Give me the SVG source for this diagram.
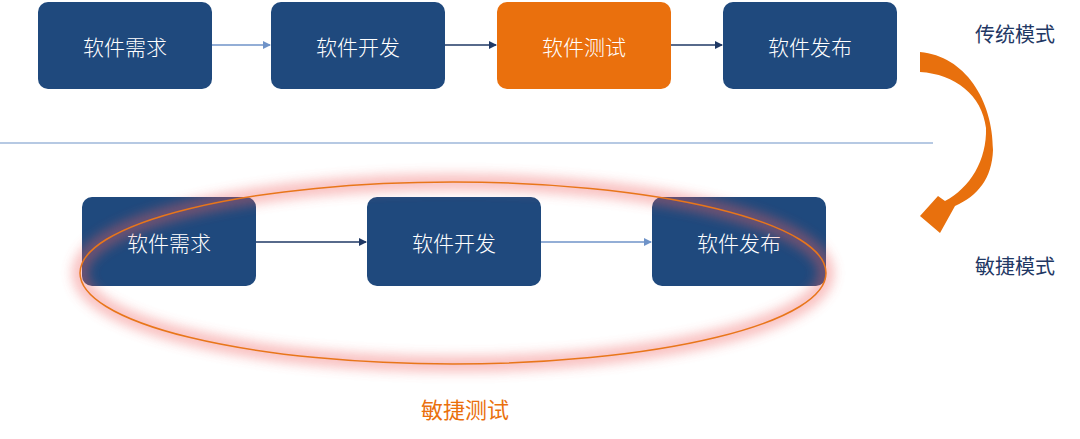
<svg xmlns="http://www.w3.org/2000/svg" width="1080" height="439" viewBox="0 0 1080 439">
<style>
.box{fill:#1F497D}
.bt{fill:#fff;font-family:"Noto Sans CJK SC","Noto Sans",sans-serif;font-size:21px;font-weight:300;text-anchor:middle;dominant-baseline:central}
.lab{fill:#1F3864;font-family:"Noto Sans CJK SC",sans-serif;font-size:20px;text-anchor:middle;dominant-baseline:central}
.dk{stroke:#1F3864;stroke-width:1.5;fill:none;marker-end:url(#ad)}
.lt{stroke:#6F93C8;stroke-width:1.5;fill:none;marker-end:url(#al)}
</style>
<defs>
<marker id="ad" markerWidth="8" markerHeight="8" refX="7" refY="4" orient="auto" markerUnits="userSpaceOnUse"><path d="M0,0 L8,4 L0,8 Z" fill="#1F3864"/></marker>
<marker id="al" markerWidth="8" markerHeight="8" refX="7" refY="4" orient="auto" markerUnits="userSpaceOnUse"><path d="M0,0 L8,4 L0,8 Z" fill="#6F93C8"/></marker>
<filter id="glow" x="-20%" y="-40%" width="140%" height="180%"><feGaussianBlur stdDeviation="6"/></filter>
</defs>
<rect width="1080" height="439" fill="#fff"/>
<line x1="0" y1="143" x2="933" y2="143" stroke="#6F93C8" stroke-width="1.2"/>
<g id="t1"><rect class="box" x="38" y="2" width="174" height="87" rx="10"/><text class="bt" x="125" y="46">软件需求</text></g>
<g id="t2"><rect class="box" x="271" y="2" width="174" height="87" rx="10"/><text class="bt" x="358" y="46">软件开发</text></g>
<g id="t3"><rect x="497" y="2" width="174" height="87" rx="10" fill="#EA700D"/><text class="bt" x="584" y="46">软件测试</text></g>
<g id="t4"><rect class="box" x="723" y="2" width="174" height="87" rx="10"/><text class="bt" x="810" y="46">软件发布</text></g>
<g id="b1"><rect class="box" x="82" y="197" width="174" height="89" rx="10"/><text class="bt" x="169" y="242">软件需求</text></g>
<g id="b2"><rect class="box" x="367" y="197" width="174" height="89" rx="10"/><text class="bt" x="454" y="242">软件开发</text></g>
<g id="b3"><rect class="box" x="652" y="197" width="174" height="89" rx="10"/><text class="bt" x="739" y="242">软件发布</text></g>
<g id="ellipse">
<ellipse cx="453" cy="273" rx="373" ry="91" fill="none" stroke="#F0606080" stroke-width="16" filter="url(#glow)" opacity="0.8"/>
<ellipse cx="453" cy="273" rx="373" ry="91" fill="none" stroke="#E8761A" stroke-width="1.5"/>
</g>
<g id="connectors">
<line class="lt" x1="212" y1="45" x2="270" y2="45"/>
<line class="dk" x1="445" y1="45" x2="496" y2="45"/>
<line class="dk" x1="671" y1="45" x2="722" y2="45"/>
<line class="dk" x1="256" y1="242" x2="366" y2="242"/>
<line class="lt" x1="541" y1="242" x2="651" y2="242"/>
<path id="curve" d="M920,52 C965,56 993,100 993,150 C992,178 978,196 955,206 L940,233 L920,216 L938,196 L945,201 C970,188 987,160 986,128 C982,95 955,74 920,72 Z" fill="#E8700D"/>
</g>
<text class="lab" x="1015" y="33">传统模式</text>
<text class="lab" x="1015" y="265">敏捷模式</text>
<text class="lab" x="465" y="408" style="fill:#EA700D;font-size:22px">敏捷测试</text>
</svg>
